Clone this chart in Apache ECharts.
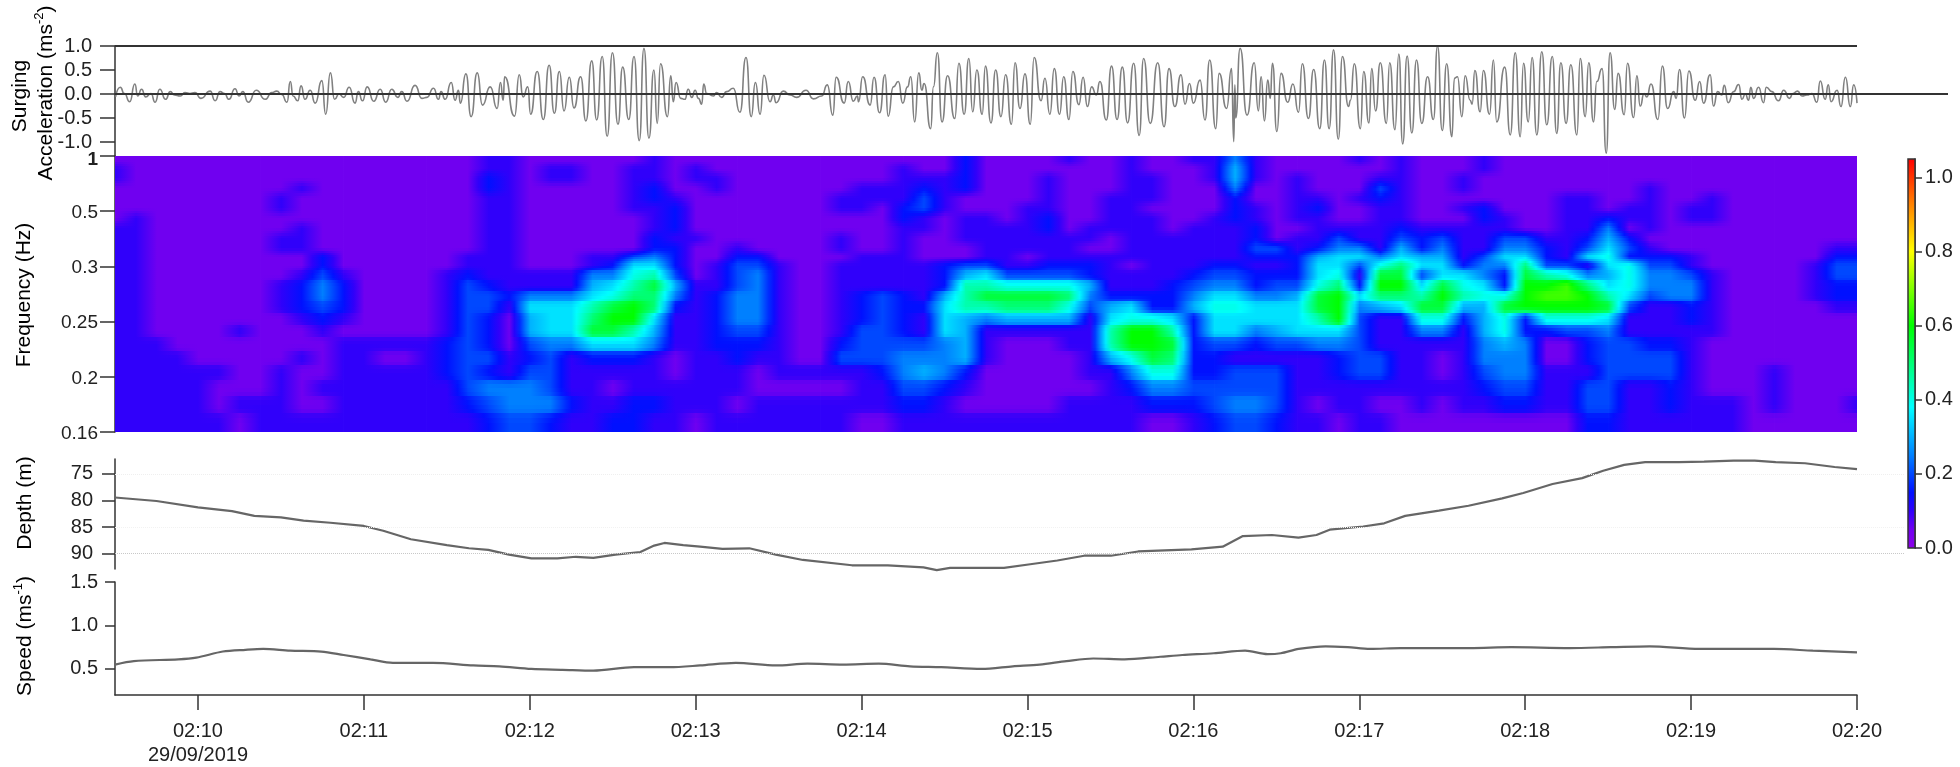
<!DOCTYPE html>
<html>
<head>
<meta charset="utf-8">
<title>Surging acceleration, frequency, depth and speed</title>
<script src="https://cdn.jsdelivr.net/npm/echarts@6/dist/echarts.min.js"></script>
<style>
html, body { margin: 0; padding: 0; background: #fff; }
#chart { width: 1960px; height: 767px; }
</style>
</head>
<body>
<div id="chart"></div>
<script>
// all times are seconds after 02:09:30
const windowEnd = 630
const minuteLabels = ['02:10', '02:11', '02:12', '02:13', '02:14', '02:15', '02:16', '02:17', '02:18', '02:19', '02:20']
const minuteTicks = [30, 90, 150, 210, 270, 330, 390, 450, 510, 570, 630]
const dateLabel = '29/09/2019'

const accelTicks = [-1, -0.5, 0, 0.5, 1]
const freqLabels = ['0.16', '0.2', '0.25', '0.3', '0.5', '1']
const depthTicks = [75, 80, 85, 90]
const speedTicks = [0.5, 1, 1.5]
const colorbarTicks = [0, 0.2, 0.4, 0.6, 0.8, 1]
const colorbarMax = 1.05

// peaks and troughs of the surging trace, [second, ms-2]
const accelPoints = [
  [0.2,-.06],[1.9,.14],[3.4,.01],[5.3,-.16],[7.2,.21],[8.2,-.04],[9.6,.10],[11.1,-.06],[13.0,.01],[14.5,-.17],
  [16.2,.10],[18.3,-.11],[20.0,.05],[21.5,-.02],[23.6,-.04],[25.3,.03],[27.1,.01],[28.9,.03],[31.1,-.09],[34.4,.06],
  [36.2,-.14],[38.0,.05],[39.6,.01],[41.2,-.11],[43.4,.11],[44.9,-.04],[46.2,.05],[48.2,-.17],[51.1,.08],[54.3,-.11],
  [56.7,.03],[58.5,.06],[60.3,-.01],[62.2,-.17],[63.4,.26],[64.4,-.04],[66.1,-.14],[67.3,.17],[68.7,-.11],[70.6,.08],
  [72.4,-.19],[74.8,.28],[76.2,-.42],[77.9,.44],[79.4,-.11],[81.0,0],[82.7,-.07],[84.7,.14],[86.8,-.19],[88.0,.05],
  [89.5,-.14],[91.2,.15],[93.6,-.15],[95.9,.10],[97.9,-.17],[100.1,.10],[102.3,-.07],[103.7,.05],[105.6,-.15],[108.5,.18],
  [111.0,-.09],[112.8,-.07],[115.2,.12],[117.0,-.11],[117.9,.05],[119.4,-.11],[121.6,.24],[123.0,-.13],[124.2,.08],[124.9,-.19],
  [126.9,.42],[128.8,-.47],[131.0,.44],[132.9,-.23],[135.7,.15],[138.2,-.30],[139.4,.24],[140.4,-.13],[140.9,.36],[144.5,-.46],
  [146.2,.40],[147.6,-.06],[149.3,.15],[150.3,-.42],[152.7,.47],[154.9,-.53],[157.0,.60],[158.9,-.40],
  [160.7,.47],[162.4,-.35],[164.3,.35],[166.0,-.29],[168.4,.36],[170.3,-.56],[172.4,.69],[174.2,-.54],[176.2,.78],[178.0,-.88],
  [179.9,.86],[181.9,-.63],[183.6,.56],[185.8,-.53],[187.7,.78],[189.6,-.97],[191.3,.95],[193.1,-.92],[194.9,.50],[196.1,-.61],
  [197.3,.63],[199.8,-.47],[201.0,.38],[201.9,-.16],[202.9,.24],[204.6,-.09],[206.1,-.11],[207.3,.10],[208.6,-.07],[209.8,.08],
  [211.0,-.09],[212.2,-.21],[212.9,.21],[214.0,.01],[216.4,-.04],[217.6,.03],[219.4,-.07],[221.2,.05],[223.6,.12],[226.0,-.38],
  [228.2,.76],[230.1,-.47],[231.6,.24],[233.3,-.42],[234.7,.39],[236.9,-.16],[238.1,-.02],[239.1,-.18],[241.7,.06],[244.1,-.02],
  [246.5,-.07],[249.9,.08],[252.6,-.10],[255.6,-.04],[257.6,.19],[259.6,-.44],[260.8,.35],[263.7,-.19],[265.2,.26],[267.0,-.15],
  [268.5,-.04],[268.9,-.16],[270.4,.36],[273.1,-.23],[274.5,.35],[276.5,-.39],[278.5,.40],[279.6,-.46],[281.5,.15],[283.3,.26],
  [284.9,-.19],[286.6,.15],[287.8,.36],[289.2,-.58],[290.7,.44],[291.8,.08],[292.6,.22],[295.0,-.72],[296.0,.15],[297.4,.86],
  [299.1,-.58],[301.1,.38],[303.7,-.51],[305.2,.64],[307.1,-.42],[308.8,.74],[310.2,-.37],[311.7,.50],[313.6,-.42],[314.8,.58],
  [316.8,-.60],[318.5,.50],[320.4,-.47],[322.1,.40],[324.2,-.63],[325.5,.65],[327.3,-.30],[329.1,.42],[331.0,-.63],[332.4,.76],
  [334.9,-.14],[336.3,.33],[338.1,-.42],[339.7,.53],[341.6,-.42],[343.1,.36],[345.0,-.53],[346.4,.47],[348.6,-.22],[350.1,.35],
  [351.7,-.26],[353.2,.15],[354.9,-.02],[356.2,.26],[358.5,-.54],[360.4,.58],[362.4,-.53],[364.3,.56],[366.2,-.60],[368.4,.64],
  [370.4,-.86],[372.0,.74],[374.4,-.61],[377.1,.65],[379.4,-.68],[381.2,.53],[383.3,-.26],[385.5,.40],[387.0,-.21],[388.6,.22],
  [390.0,-.19],[392.4,.29],[394.2,-.54],[395.9,.71],[398.1,-.72],[399.3,.43],[402.0,-.30],[403.8,.53],[404.6,-.99],[405.0,.19],
  [405.3,-.50],[406.9,.95],[409.4,-.44],[412.0,.65],[413.5,-.35],[414.5,.36],[415.7,-.56],[416.9,.29],[417.8,-.09],[418.6,.64],
  [420.2,-.78],[421.7,.43],[424.1,-.17],[426.0,.21],[428.0,-.38],[429.4,.63],[431.6,-.51],[433.5,.51],[435.7,-.72],[437.4,.71],
  [439.1,-.72],[440.7,.92],[442.4,-.94],[443.9,.78],[446.1,-.26],[446.8,-.13],[448.2,.63],[450.4,-.72],[451.6,.47],[453.5,-.60],
  [454.5,.53],[455.9,-.35],[457.6,.65],[459.8,-.61],[461.0,.65],[462.9,-.74],[464.3,.83],[465.7,-1.04],[467.3,.79],[469.0,-.81],
  [470.7,.71],[472.6,-.61],[474.7,.36],[476.8,-.53],[478.3,1.0],[480.0,-.76],[481.6,.63],[483.5,-.89],[484.4,.33],[485.5,.36],
  [487.1,-.47],[488.3,.38],[490.1,-.13],[490.8,-.21],[491.8,.49],[493.7,-.37],[494.9,.49],[497.1,-.42],[498.5,.71],[499.7,-.58],
  [502.6,.56],[504.6,-.85],[506.4,.86],[508.2,-.89],[509.4,.64],[511.1,-.58],[512.5,.76],[514.2,-.85],[516.0,.88],[517.8,-.64],
  [519.8,.78],[521.4,-.82],[522.9,.65],[524.8,-.61],[526.5,.61],[528.7,-.85],[529.9,.74],[531.7,-.47],[533.0,.65],[534.7,-.58],
  [535.9,.26],[537.8,.53],[539.3,-1.23],[540.7,.86],[542.4,-.32],[543.6,.43],[545.8,-.43],[547.0,.64],[549.2,-.49],[550.4,.38],
  [551.6,-.25],[553.0,.01],[554.0,-.06],[555.5,.21],[558.0,-.53],[559.6,.58],[561.5,-.30],[563.7,.05],[564.6,-.09],[565.8,.51],
  [567.6,-.50],[569.2,.48],[571.5,-.13],[573.1,.26],[574.5,-.19],[576.9,.40],[578.1,-.25],[579.6,.05],[581.1,-.02],[582.0,.18],
  [583.4,-.18],[585.4,.05],[587.2,.20],[588.4,-.11],[589.6,0],[590.8,-.13],[591.6,.14],[592.6,-.09],[594.4,.14],[596.2,-.18],
  [597.2,.14],[599.2,.05],[601.6,-.14],[603.5,.08],[605.6,-.09],[606.8,.01],[608.5,.06],[610.1,-.04],[611.9,-.02],[613.7,.01],
  [615.5,-.17],[616.7,.27],[618.5,-.11],[619.6,.19],[620.6,-.16],[622.8,.08],[624.2,-.26],[625.8,.35],[627.6,-.26],[628.8,.19],[630,-.19]
]

const depthPoints = [
  [0,79.45],[15,80.1],[30,81.3],[42.3,82.0],[50.4,82.9],[60,83.2],[68.2,83.8],[77.9,84.2],[90,84.8],[97,85.7],
  [107,87.3],[120,88.4],[128,89.0],[135,89.3],[142.5,90.2],[150.6,90.9],[160,90.9],[166.7,90.6],[173,90.8],[181,90.2],
  [190,89.7],[195,88.5],[198.7,88.0],[205.5,88.4],[211.6,88.7],[219.7,89.1],[229.4,89.0],[239,90.2],[248.8,91.2],[266.5,92.2],
  [279.5,92.2],[292.4,92.6],[297.2,93.1],[302,92.7],[321.5,92.7],[331,92.0],[340.8,91.3],[350.5,90.4],[360.2,90.4],[370,89.6],
  [389.3,89.2],[400.6,88.7],[407.9,86.7],[418.4,86.5],[428,87.0],[434.5,86.5],[439.3,85.5],[451.4,84.9],[459,84.3],[466.6,82.9],
  [478.8,81.9],[489.5,81.0],[501.7,79.6],[509.3,78.6],[519.9,76.9],[530.6,75.8],[538.2,74.4],[545.8,73.3],[553.4,72.8],[565.6,72.8],
  [574.7,72.7],[585.4,72.5],[593,72.5],[600.6,72.8],[611.2,73.0],[621.9,73.7],[630,74.1]
]

const speedPoints = [
  [0,.55],[6.8,.59],[22.9,.61],[29.4,.63],[39,.70],[47.2,.72],[53.6,.73],[63.3,.71],[74.6,.70],[82.7,.66],
  [92.4,.61],[100.5,.57],[115,.57],[129.6,.54],[139,.53],[150.6,.50],[161.9,.49],[173,.48],[187.7,.52],[200.6,.52],
  [211.6,.54],[224.5,.57],[239,.54],[250.4,.56],[263.3,.55],[276.2,.56],[287.5,.53],[298.8,.52],[313.4,.50],[324.7,.53],
  [334.4,.55],[344.1,.59],[353.8,.62],[365.1,.61],[378,.64],[386,.66],[397.4,.68],[408.7,.71],[416.8,.67],[421.6,.68],
  [428.1,.73],[437.8,.76],[445.8,.75],[453.9,.73],[464.9,.74],[490,.74],[505,.75],[526,.74],[541,.75],[555,.76],
  [573,.73],[600,.73],[614,.71],[630,.69]
]

// wavelet power, one string per scale band from 1 Hz down to 0.16 Hz.
// one char per 7.5 s, groups are the minutes, char value = index * 0.05
const heatRows = [
  '1111 11111111 11111122 11111121 11111111 11111311 11211211 22521111 21211121 11111111 11111111 1',
  '2111 11111111 11111122 12211221 21111111 11211311 11111211 12621111 11211121 11111111 11111111 1',
  '2111 11111111 11111132 12211221 22111111 11222311 12111221 12621211 12211211 11111111 11111111 1',
  '1111 11111211 11111132 11111231 12111111 22232311 12111221 11511211 14211211 11111121 11111111 1',
  '1111 11112111 11111122 11111232 11111112 22242111 12112221 11311221 23211111 11221121 12111111 1',
  '1111 11112111 11111122 11111223 11111112 21342111 22112211 11321231 12211231 11221221 22111111 1',
  '1211 11111111 11111122 11111123 11111111 11321221 23112221 12321221 12211132 11223221 22111111 1',
  '2211 11111211 11111122 11111123 11111111 11221222 23122221 22231122 22322222 11225121 11111111 1',
  '2211 11112211 11111122 11111132 21111112 11211222 22221222 22231224 22434224 42236311 11111111 1',
  '2211 11112211 11111122 11111133 11211112 11211122 22211222 22244235 52635225 53247421 11111112 2',
  '2211 11111131 11111222 11122453 11331111 22211122 12222222 22233367 75766247 73278333 21111113 3',
  '2211 11111131 11111222 11123773 12442112 22223442 23332122 23322377 48a77355 a4427844 21111124 4',
  '2211 11111242 11112322 22255894 12452112 22223674 44432222 34433378 2bb47753 b9856855 42111124 4',
  '2211 11112353 11112432 222679b6 22452112 22223998 88862223 4553448a 3cc7b873 ccda7855 52111123 3',
  '2211 11112353 11112443 55578aa5 23552112 343269bb bba53333 577556bc 7aa9c988 cddc9745 52111123 3',
  '2211 11112343 11112442 7779bca3 23552112 3433799a aa846733 688777bc 567bb66b ccccb422 32111112 2',
  '2211 11111232 11112431 677acc72 23552112 34327656 66627887 3777779c 42288368 38887222 32111111 1',
  '2211 11211121 11112431 677bb962 23442112 44327622 22229cc9 37756777 42255268 33445222 22111111 1',
  '2221 11111112 22223431 45577752 23332113 44445621 11229ccb 34434455 42222256 51134433 21111111 1',
  '2222 11111212 21123442 34233321 22322114 44555621 11126 8ba 33222223 44221255 51134444 21111111 1',
  '2222 22112112 22223432 44222221 22212222 23565311 11122588 33444223 44221245 52224444 21112111 1',
  '2222 21112122 22222455 54221222 22211111 22443211 11112355 44444222 22222234 42244223 21112111 1',
  '2222 21222112 22222345 55322332 22122222 22332111 11222233 34554212 21121223 32244223 22212111 2',
  '2222 22122222 22222234 43223322 12222222 11222222 22222211 23443221 22111111 11133222 22211111 1'
]
const heatStep = 7.5
// band edges on the frequency axis, 0 = 0.16 Hz ... 5 = 1 Hz
const heatEdges = [5, 4.86, 4.697, 4.516, 4.335, 4.154, 3.973, 3.792, 3.611, 3.429, 3.248, 3.091, 2.94, 2.759, 2.547, 2.366, 2.156, 1.944, 1.721, 1.46, 1.219, 0.935, 0.645, 0.344, 0]

const paletteValues = [0, 0.05, 0.1, 0.15, 0.25, 0.38, 0.6, 0.8, 0.93, 1.05]
const paletteColors = ['#8c00e8', '#7000f0', '#3000fa', '#0010ff', '#0080ff', '#00ffff', '#00ff00', '#ffff00', '#ff8000', '#ff0000']

function hexToRgb(hex) {
  return [1, 3, 5].map(i => parseInt(hex.substr(i, 2), 16))
}

function valueColor(v) {
  let i = 0
  while (i < paletteValues.length - 2 && v > paletteValues[i + 1]) i++
  const f = Math.min(1, Math.max(0, (v - paletteValues[i]) / (paletteValues[i + 1] - paletteValues[i])))
  const a = hexToRgb(paletteColors[i])
  const b = hexToRgb(paletteColors[i + 1])
  return 'rgb(' + a.map((c, k) => Math.round(c + (b[k] - c) * f)).join(',') + ')'
}

const heatValues = heatRows.map(r => r.replace(/\s/g, '').split('').map(c => parseInt(c, 36) * 0.05))
const heatCells = []
heatValues.forEach((row, r) => {
  const up = heatValues[Math.max(r - 1, 0)]
  const down = heatValues[Math.min(r + 1, heatValues.length - 1)]
  for (let c = 0; c < row.length - 1; c++) {
    heatCells.push([c * heatStep, (c + 1) * heatStep, heatEdges[r], heatEdges[r + 1], row[c], row[c + 1], up[c], up[c + 1], down[c], down[c + 1], r])
  }
})

// each cell shades left to right, and softens towards the band above and below
function renderHeatCell(params, api) {
  const p0 = api.coord([api.value(0), api.value(2)])
  const p1 = api.coord([api.value(1), api.value(3)])
  const soft = api.value(10) < 12 ? 1 : 0.55
  const last = api.value(1) >= windowEnd
  const width = p1[0] - p0[0] + (last ? 0 : 0.8)
  const parts = 4
  const top = Math.round(p0[1])
  const bottom = Math.round(p1[1])
  const children = []
  for (let k = 0; k < parts; k++) {
    const y0 = Math.round(top + (bottom - top) * k / parts)
    const y1 = Math.round(top + (bottom - top) * (k + 1) / parts)
    const u = (k + 0.5) / parts
    const other = u < 0.5 ? 6 : 8
    const w = soft * Math.abs(0.5 - u)
    const left = api.value(4) + (api.value(other) - api.value(4)) * w
    const right = api.value(5) + (api.value(other + 1) - api.value(5)) * w
    const stops = [0, 0.25, 0.5, 0.75, 1].map(s => ({ offset: s, color: valueColor(left + (right - left) * s) }))
    children.push({
      type: 'rect',
      shape: { x: p0[0], y: y0, width: width, height: y1 - y0 },
      style: { fill: new echarts.graphic.LinearGradient(0, 0, 1, 0, stops) }
    })
  }
  return { type: 'group', children: children }
}

function renderColorbar(params, api) {
  const p0 = api.coord([0, api.value(1)])
  const p1 = api.coord([1, api.value(0)])
  const stops = paletteValues.map((v, i) => ({ offset: 1 - v / colorbarMax, color: paletteColors[i] })).reverse()
  return {
    type: 'rect',
    shape: { x: p0[0], y: p0[1], width: p1[0] - p0[0], height: p1[1] - p0[1] },
    style: { fill: new echarts.graphic.LinearGradient(0, 0, 0, 1, stops) }
  }
}

const font = '"Liberation Sans", Arial, sans-serif'
const ink = '#222'
const axisInk = '#333'
const leftX = 115
const plotWidth = 1742
const secPerPx = windowEnd / plotWidth
const titleRich = {
  t: { fontFamily: font, fontSize: 21, color: ink, lineHeight: 26 },
  s: { fontFamily: font, fontSize: 13, color: ink, verticalAlign: 'top', lineHeight: 26 }
}

function yLabels(extra) {
  return Object.assign({ fontFamily: font, fontSize: 20, color: ink, margin: 8 }, extra)
}

function sideTitle(text, x, y) {
  return {
    type: 'text', x: x, y: y, rotation: Math.PI / 2, silent: true,
    style: { text: text, rich: titleRich, align: 'center', verticalAlign: 'middle' }
  }
}

const option = {
  animation: false,
  backgroundColor: '#fff',
  textStyle: { fontFamily: font },
  graphic: [
    sideTitle('{t|Surging}', 20, 96),
    sideTitle('{t|Acceleration (ms}{s|-2}{t|)}', 46, 93),
    sideTitle('{t|Frequency (Hz)}', 24, 295),
    sideTitle('{t|Depth (m)}', 25, 503),
    sideTitle('{t|Speed (ms}{s|-1}{t|)}', 25, 636)
  ],
  grid: [
    { left: leftX, top: 46, width: 1833, height: 110 },
    { left: leftX, top: 156, width: plotWidth, height: 276 },
    { left: leftX, top: 459, width: 1790, height: 110 },
    { left: leftX, top: 582, width: plotWidth, height: 114 },
    { left: 1908, top: 159, width: 7, height: 389, show: true, borderColor: '#333', borderWidth: 1.5, z: 5 }
  ],
  xAxis: [
    { gridIndex: 0, type: 'value', min: 0, max: 1833 * secPerPx, show: false },
    { gridIndex: 1, type: 'value', min: 0, max: windowEnd, show: false },
    { gridIndex: 2, type: 'value', min: 0, max: 1790 * secPerPx, show: false },
    {
      gridIndex: 3, type: 'value', min: 0, max: windowEnd,
      splitLine: { show: false },
      axisLine: { show: true, onZero: false, lineStyle: { color: axisInk, width: 1.5 } },
      axisTick: { show: true, length: 15, customValues: minuteTicks, lineStyle: { color: axisInk, width: 1.5 } },
      axisLabel: {
        show: true, customValues: minuteTicks, margin: 24, hideOverlap: false,
        fontFamily: font, fontSize: 20, color: ink, lineHeight: 24,
        formatter: v => {
          const label = minuteLabels[minuteTicks.indexOf(v)]
          return v === minuteTicks[0] ? label + '\n' + dateLabel : label
        }
      }
    },
    { gridIndex: 4, type: 'value', min: 0, max: 1, show: false }
  ],
  yAxis: [
    {
      gridIndex: 0, type: 'value', min: -1.29, max: 1,
      splitLine: { show: false },
      axisLine: { show: true, onZero: false, lineStyle: { color: axisInk, width: 1.5 } },
      axisTick: { show: true, length: 15, customValues: accelTicks, lineStyle: { color: axisInk, width: 1.5 } },
      axisLabel: yLabels({ customValues: accelTicks, margin: 23, hideOverlap: false, formatter: v => v.toFixed(1) })
    },
    {
      gridIndex: 1, type: 'value', min: 0, max: 5,
      splitLine: { show: false },
      axisLine: { show: true, onZero: false, lineStyle: { color: axisInk, width: 1.5 } },
      axisTick: { show: true, length: 15, customValues: [0, 1, 2, 3, 4, 5], lineStyle: { color: axisInk, width: 1.5 } },
      axisLabel: yLabels({
        customValues: [0, 1, 2, 3, 4, 5], margin: 17, fontSize: 19, hideOverlap: false, padding: [3, 0, 0, 0],
        formatter: v => (v === 5 ? '{top|' + freqLabels[v] + '}' : freqLabels[v]),
        rich: { top: { fontFamily: font, fontSize: 19, fontWeight: 'bold', color: ink, padding: [5, 0, 0, 0] } }
      })
    },
    {
      gridIndex: 2, type: 'value', min: 72.2, max: 92.9, inverse: true,
      splitLine: { show: false },
      axisLine: { show: true, onZero: false, lineStyle: { color: axisInk, width: 1.5 } },
      axisTick: { show: true, length: 13, customValues: depthTicks, lineStyle: { color: axisInk, width: 1.5 } },
      axisLabel: yLabels({ customValues: depthTicks, margin: 22, hideOverlap: false })
    },
    {
      gridIndex: 3, type: 'value', min: 0.2, max: 1.5,
      splitLine: { show: false },
      axisLine: { show: true, onZero: false, lineStyle: { color: axisInk, width: 1.5 } },
      axisTick: { show: true, length: 10, customValues: speedTicks, lineStyle: { color: axisInk, width: 1.5 } },
      axisLabel: yLabels({ customValues: speedTicks, margin: 17, hideOverlap: false, padding: [0, 0, 9, 0], formatter: v => v.toFixed(1) })
    },
    {
      gridIndex: 4, type: 'value', min: 0, max: colorbarMax, position: 'right',
      splitLine: { show: false },
      axisLine: { show: true, onZero: false, lineStyle: { color: axisInk, width: 1.5 } },
      axisTick: { show: true, length: 7, customValues: colorbarTicks, lineStyle: { color: axisInk, width: 1.5 } },
      axisLabel: yLabels({ customValues: colorbarTicks, margin: 10, hideOverlap: false, formatter: v => v.toFixed(1) })
    }
  ],
  series: [
    {
      type: 'line', xAxisIndex: 0, yAxisIndex: 0, data: accelPoints, showSymbol: false, silent: true, clip: false,
      smooth: 0.6, smoothMonotone: 'x',
      lineStyle: { color: '#808080', width: 1.6 },
      markLine: {
        silent: true, symbol: 'none', label: { show: false }, animation: false,
        data: [
          [{ coord: [0, 1], lineStyle: { color: '#333', width: 2, type: 'solid' } }, { coord: [windowEnd, 1] }],
          [{ coord: [0, 0], lineStyle: { color: '#333', width: 2, type: 'solid' } }, { coord: [1833 * secPerPx, 0] }]
        ]
      }
    },
    {
      type: 'custom', xAxisIndex: 1, yAxisIndex: 1, data: heatCells, renderItem: renderHeatCell,
      silent: true, progressive: 0, clip: true
    },
    {
      type: 'line', xAxisIndex: 2, yAxisIndex: 2, data: depthPoints, showSymbol: false, silent: true, clip: false,
      lineStyle: { color: '#666', width: 2.2 },
      markLine: {
        silent: true, symbol: 'none', label: { show: false }, animation: false,
        data: [
          [{ coord: [0, 90], lineStyle: { color: '#c8c8c8', width: 1, type: 'dotted' } }, { coord: [1790 * secPerPx, 90] }],
          [{ coord: [0, 85], lineStyle: { color: '#f2f2f2', width: 1, type: 'dotted' } }, { coord: [1790 * secPerPx, 85] }],
          [{ coord: [0, 75], lineStyle: { color: '#efefef', width: 1, type: 'dotted' } }, { coord: [1790 * secPerPx, 75] }]
        ]
      }
    },
    {
      type: 'line', xAxisIndex: 3, yAxisIndex: 3, data: speedPoints, showSymbol: false, silent: true, clip: false,
      smooth: 0.3, lineStyle: { color: '#666', width: 2.2 }
    },
    {
      type: 'custom', xAxisIndex: 4, yAxisIndex: 4, data: [[0, colorbarMax]], renderItem: renderColorbar, silent: true
    }
  ]
}

const chart = echarts.init(document.getElementById('chart'), null, { renderer: 'canvas' })
chart.setOption(option)
</script>
</body>
</html>
